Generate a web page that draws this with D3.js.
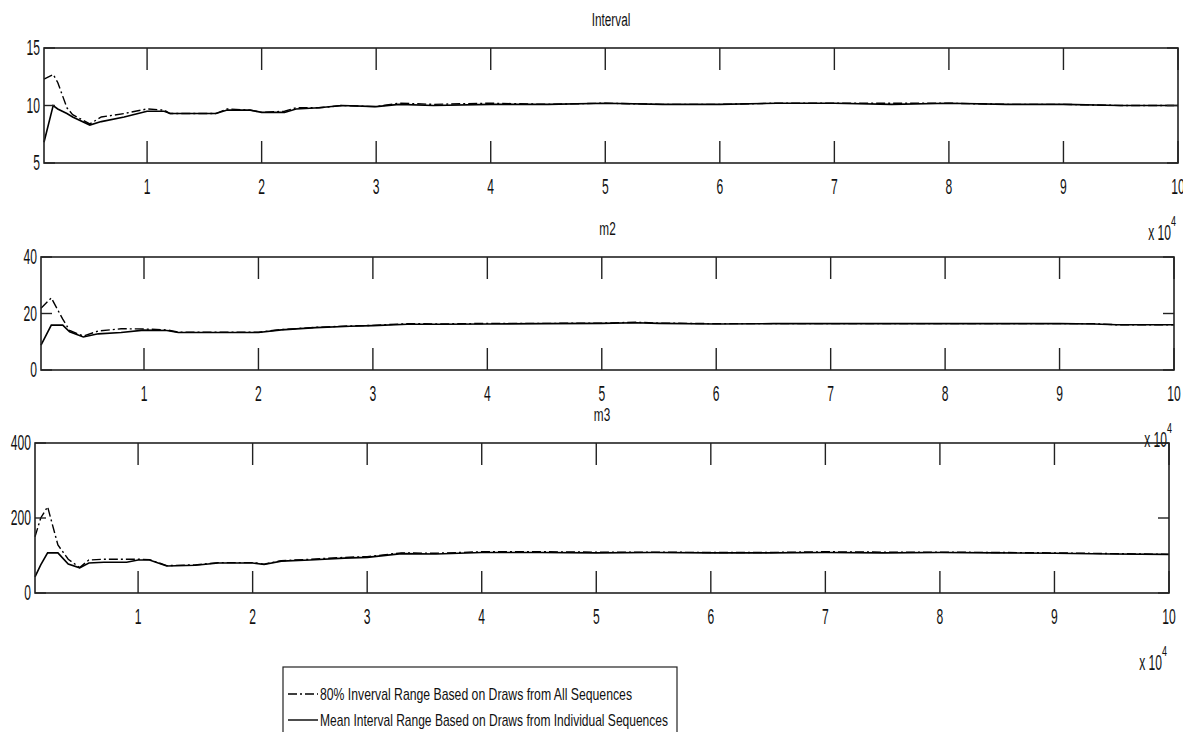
<!DOCTYPE html>
<html>
<head>
<meta charset="utf-8">
<script src="https://cdn.jsdelivr.net/npm/d3@7"></script>
<style>
  body { margin: 0; background: #fff; }
  text { font-family: "Liberation Sans", Arial, sans-serif; fill: #111; }
</style>
</head>
<body>
<script>
// x values are draw counts, shared by both series of a panel
var xTicks = [1, 2, 3, 4, 5, 6, 7, 8, 9, 10];   // in units of 10^4

var intervalIter = [1000, 1800, 2200, 3000, 3500, 5000, 6000, 8000, 10000, 11500, 12000, 16000, 17000, 19000, 20000, 22000, 23000, 25000, 27000, 30000, 32000, 35000, 40000, 45000, 50000, 55000, 60000, 65000, 70000, 75000, 80000, 85000, 90000, 95000, 100000];
var intervalMean = [6.8, 10.0, 9.7, 9.3, 9.0, 8.3, 8.6, 9.0, 9.5, 9.5, 9.3, 9.3, 9.6, 9.6, 9.4, 9.4, 9.7, 9.8, 10.0, 9.9, 10.1, 10.0, 10.1, 10.1, 10.2, 10.1, 10.1, 10.2, 10.2, 10.1, 10.2, 10.1, 10.1, 10.0, 10.0];
var intervalRange = [12.3, 12.7, 12.0, 9.8, 9.2, 8.4, 9.0, 9.3, 9.7, 9.6, 9.3, 9.3, 9.7, 9.6, 9.4, 9.5, 9.8, 9.8, 10.0, 9.9, 10.2, 10.1, 10.2, 10.1, 10.2, 10.1, 10.1, 10.2, 10.2, 10.2, 10.2, 10.1, 10.1, 10.0, 10.0];

var m2Iter = [1000, 1900, 2900, 3500, 4700, 6000, 8000, 10000, 12000, 13000, 20000, 22000, 25000, 28000, 30000, 33000, 36000, 40000, 45000, 50000, 53000, 55000, 60000, 65000, 70000, 80000, 90000, 93000, 95000, 100000];
var m2Mean = [8.8, 15.9, 15.9, 13.5, 11.7, 12.8, 13.3, 14.1, 14.0, 13.3, 13.3, 14.2, 15.0, 15.5, 15.7, 16.2, 16.2, 16.3, 16.4, 16.5, 16.7, 16.5, 16.3, 16.4, 16.4, 16.4, 16.4, 16.3, 16.0, 16.0];
var m2Range = [21.9, 25.5, 18.0, 14.0, 12.0, 13.8, 14.6, 14.5, 14.2, 13.4, 13.4, 14.3, 15.1, 15.6, 15.8, 16.4, 16.3, 16.5, 16.5, 16.6, 16.9, 16.6, 16.4, 16.4, 16.4, 16.4, 16.4, 16.4, 16.0, 16.0];

var m3Iter = [1000, 1500, 2100, 3000, 3900, 4900, 5700, 7000, 9000, 10000, 11000, 12500, 15000, 17000, 20000, 21000, 22500, 25000, 28000, 30000, 33000, 36000, 40000, 45000, 50000, 55000, 60000, 65000, 70000, 75000, 80000, 85000, 90000, 95000, 100000];
var m3Mean = [43, 75, 107, 107, 77, 67, 80, 82, 82, 88, 88, 72, 74, 80, 80, 76, 85, 88, 93, 95, 105, 104, 108, 108, 107, 108, 107, 107, 108, 107, 108, 107, 106, 104, 103];
var m3Range = [150, 200, 230, 128, 90, 68, 88, 90, 90, 90, 89, 73, 75, 81, 81, 77, 86, 90, 95, 97, 107, 106, 110, 110, 109, 109, 108, 108, 110, 109, 109, 108, 107, 105, 103];

var titles = ['Interval', 'm2', 'm3'];
var yDomains = [[5, 15], [0, 40], [0, 400]];
var yTickVals = [[5, 10, 15], [0, 20, 40], [0, 200, 400]];
var legendLabels = ['80% Inverval Range Based on Draws from All Sequences',
                    'Mean Interval Range Based on Draws from Individual Sequences'];

var panels = [
    { iter: intervalIter, mean: intervalMean, range: intervalRange, box: { l: 44, r: 1178, t: 48, b: 163 } },
    { iter: m2Iter, mean: m2Mean, range: m2Range, box: { l: 41, r: 1174, t: 257, b: 370 } },
    { iter: m3Iter, mean: m3Mean, range: m3Range, box: { l: 35, r: 1169, t: 443, b: 593 } }
];

var svg = d3.select('body').append('svg')
    .attr('width', 1183)
    .attr('height', 732);

// narrow text: the source picture is squeezed horizontally
function label(sel, x, y, str, size, anchor, sx) {
    var g = sel.append('g')
        .attr('transform', 'translate(' + x + ',' + y + ') scale(' + sx + ',1)');
    return g.append('text')
        .attr('text-anchor', anchor)
        .attr('dominant-baseline', 'central')
        .style('font-size', size + 'px')
        .text(str);
}

panels.forEach(function (p, i) {
    var b = p.box;
    var x = d3.scaleLinear().domain([1000, 100000]).range([b.l, b.r]);
    var y = d3.scaleLinear().domain(yDomains[i]).range([b.b, b.t]);
    var g = svg.append('g').attr('class', 'panel');

    var line = d3.line()
        .x(function (d) { return x(d[0]); })
        .y(function (d) { return y(d[1]); });

    var meanPts = p.iter.map(function (v, k) { return [v, p.mean[k]]; });
    var rangePts = p.iter.map(function (v, k) { return [v, p.range[k]]; });

    g.append('path')
        .attr('d', line(rangePts))
        .attr('fill', 'none')
        .attr('stroke', '#000')
        .attr('stroke-width', 1.4)
        .attr('stroke-dasharray', '9,3,2,3');

    g.append('path')
        .attr('d', line(meanPts))
        .attr('fill', 'none')
        .attr('stroke', '#000')
        .attr('stroke-width', 1.6);

    // box
    g.append('rect')
        .attr('x', b.l).attr('y', b.t)
        .attr('width', b.r - b.l).attr('height', b.b - b.t)
        .attr('fill', 'none')
        .attr('stroke', '#222')
        .attr('stroke-width', 1.6);

    // x ticks on top and bottom, pointing inward
    xTicks.forEach(function (t) {
        var px = x(t * 10000);
        g.append('line').attr('x1', px).attr('x2', px).attr('y1', b.b).attr('y2', b.b - 22)
            .attr('stroke', '#222').attr('stroke-width', 1.4);
        g.append('line').attr('x1', px).attr('x2', px).attr('y1', b.t).attr('y2', b.t + 22)
            .attr('stroke', '#222').attr('stroke-width', 1.4);
        label(g, px, b.b + 24, t, 22, 'middle', 0.55);
    });

    // y ticks left and right
    yTickVals[i].forEach(function (t) {
        var py = y(t);
        g.append('line').attr('x1', b.l).attr('x2', b.l + 11).attr('y1', py).attr('y2', py)
            .attr('stroke', '#222').attr('stroke-width', 1.4);
        g.append('line').attr('x1', b.r).attr('x2', b.r - 11).attr('y1', py).attr('y2', py)
            .attr('stroke', '#222').attr('stroke-width', 1.4);
        label(g, b.l - 4, py, t, 22, 'end', 0.55);
    });

    label(g, (b.l + b.r) / 2, b.t - 29, titles[i], 19, 'middle', 0.62);

    // exponent note
    label(g, b.r - 7, b.b + 70, 'x 10', 22, 'end', 0.55);
    label(g, b.r - 2, b.b + 58, '4', 15, 'end', 0.6);
});

// legend
var lg = svg.append('g').attr('class', 'legend');
lg.append('rect')
    .attr('x', 283).attr('y', 667)
    .attr('width', 394).attr('height', 90)
    .attr('fill', '#fff')
    .attr('stroke', '#222')
    .attr('stroke-width', 1.2);

var legendDash = ['9,3,2,3', null];
var legendWidths = [312, 348];
legendLabels.forEach(function (txt, k) {
    var ly = 694 + k * 26;
    lg.append('line')
        .attr('x1', 288).attr('x2', 318).attr('y1', ly).attr('y2', ly)
        .attr('stroke', '#000')
        .attr('stroke-width', 1.4)
        .attr('stroke-dasharray', legendDash[k]);
    lg.append('text')
        .attr('x', 320).attr('y', ly)
        .attr('dominant-baseline', 'central')
        .attr('textLength', legendWidths[k])
        .attr('lengthAdjust', 'spacingAndGlyphs')
        .style('font-size', '17px')
        .text(txt);
});
</script>
</body>
</html>
